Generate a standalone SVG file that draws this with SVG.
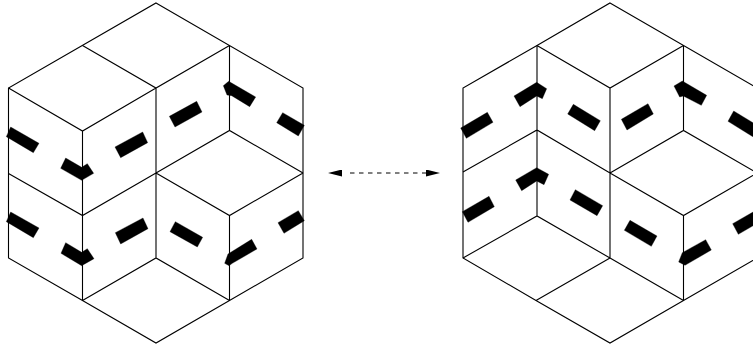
<svg xmlns="http://www.w3.org/2000/svg" width="753" height="347" viewBox="0 0 753 347">
<defs>
<style>
.e{fill:none;stroke:#000;stroke-width:1.100;stroke-linejoin:miter}
.b{fill:#000;stroke:#000;stroke-width:1}
</style>
<marker id="ah" viewBox="0 0 14 7" refX="0" refY="3.500" markerWidth="14" markerHeight="7" markerUnits="userSpaceOnUse" orient="auto-start-reverse"><path d="M0 0L14 3.500L0 7Z" fill="#000"/></marker>
</defs>
<rect width="753" height="347" fill="#fff"/>
<g id="left-figure">
<path class="e" d="M156 3L303 88V258L229.500 300.500L156 343L82.500 300.500L8.500 258V88Z"/>
<path class="e" d="M82.500 45.500L156 88L229.500 45.500M156 88V258M8.500 88L82.500 131L156 88M82.500 131V300.500M8.500 173.500L82.500 215.500L156 173M156 173L229.500 130.500L303 173M229.500 45.500V130.500M156 173L229.500 215.500L303 173M229.500 215.500V300.500M82.500 300.500L156 258L229.500 300.500"/>
<g transform="scale(.33333)">
<polygon class="b" points="32,381 117,430 100,458 19,410"/>
<polygon class="b" points="197,474 245,502 262,491 281,520 245,541 182,505"/>
<polygon class="b" points="428,396 443,428 362,473 345,441"/>
<polygon class="b" points="590,304 606,336 525,381 508,349"/>
<polygon class="b" points="686,244 767,291 749,320 695,287 681,285 670,257"/>
<polygon class="b" points="848,338 913,376 895,408 830,368"/>
<polygon class="b" points="32,636 117,684 100,713 19,665"/>
<polygon class="b" points="197,728 245,757 262,746 282,776 245,797 183,760"/>
<polygon class="b" points="429,654 444,686 362,732 346,698"/>
<polygon class="b" points="526,665 608,712 592,741 510,695"/>
<polygon class="b" points="755,718 771,747 697,790 687,797 674,790 684,762"/>
<polygon class="b" points="895,632 913,662 852,700 834,668"/>
</g>
</g>
<g id="connectors">
<line x1="342" y1="173" x2="426" y2="173" stroke="#000" stroke-width="1" stroke-dasharray="0 8 4.500 4.500 4.500 4.500 4.500 4.500 4.500 4.500 4.500 4.500 4.500 4.500 4.500 4.500 4.500 4.500 4.500 4.500" marker-start="url(#ah)" marker-end="url(#ah)"/>
</g>
<g id="right-figure">
<path class="e" d="M610 3L757 88V258L683.500 300.500L610 343L536 300.500L463 258V88L537 45.500Z"/>
<path class="e" d="M537 45.500L610 88L683.500 45.500M537 45.500V216M463 172L537 130L610 173M463 258L537 216L610 258M610 88V258M610 173L683.500 130.500L757 173M683.500 45.500V130.500M610 173L683.500 215.500L757 173M683.500 215.500V300.500M610 258L683.500 300.500M610 258L536 300.500"/>
<g transform="translate(450 0) scale(.33333)">
<polygon class="b" points="112,337 129,367 49,415 32,384"/>
<polygon class="b" points="260,247 290,266 277,296 260,288 210,320 192,288"/>
<polygon class="b" points="370,313 451,362 434,392 353,342"/>
<polygon class="b" points="594,311 610,342 531,390 514,358"/>
<polygon class="b" points="697,243 770,286 754,316 700,288 689,291 672,258"/>
<polygon class="b" points="851,333 925,378 925,420 905,408 834,364"/>
<polygon class="b" points="117,589 133,620 54,667 37,635"/>
<polygon class="b" points="260,503 296,523 282,554 260,543 215,572 197,540"/>
<polygon class="b" points="376,569 458,617 441,647 360,600"/>
<polygon class="b" points="540,661 621,708 604,739 523,691"/>
<polygon class="b" points="767,719 784,750 705,796 686,786 697,758"/>
<polygon class="b" points="925,627 925,668 865,703 848,671"/>
</g>
</g>
</svg>
